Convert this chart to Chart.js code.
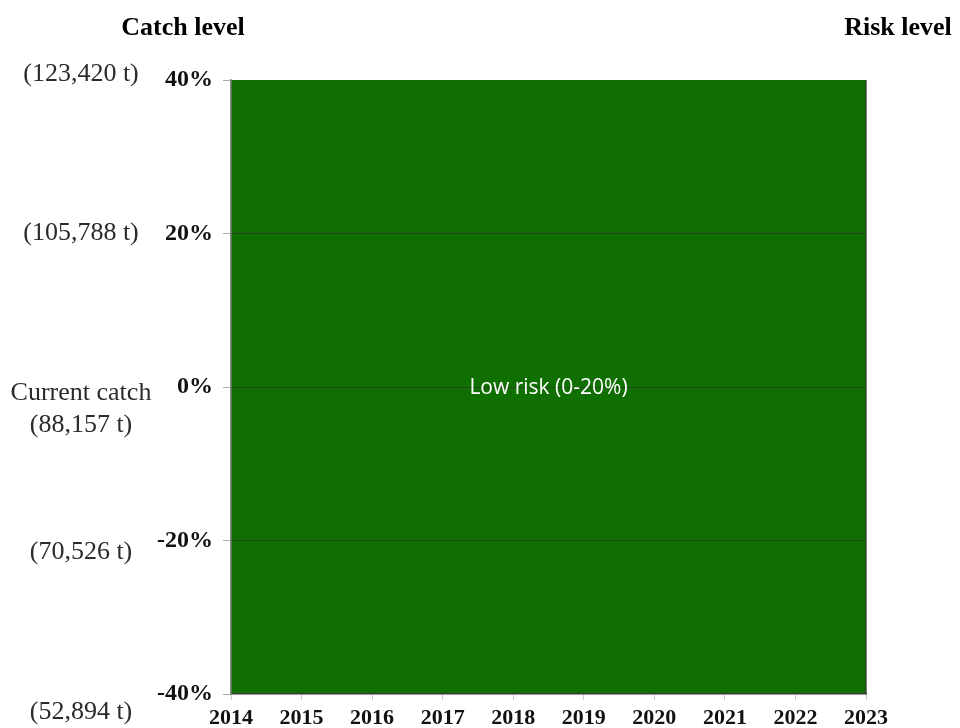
<!DOCTYPE html>
<html>
<head>
<meta charset="utf-8">
<script src="https://cdn.jsdelivr.net/npm/chart.js@4/dist/chart.umd.min.js"></script>
<style>
  html, body { margin: 0; padding: 0; background: #ffffff; }
  #wrap { width: 960px; height: 728px; }
</style>
</head>
<body>
<div id="wrap"><canvas id="chart" width="960" height="728"></canvas></div>
<script>
// Projection years (x axis)
const years = [2014, 2015, 2016, 2017, 2018, 2019, 2020, 2021, 2022, 2023];
// Catch change relative to current catch (%) bounding the risk band
const bandUpper = [40, 40, 40, 40, 40, 40, 40, 40, 40, 40];
const bandLower = [-40, -40, -40, -40, -40, -40, -40, -40, -40, -40];
// Percent ticks on the catch axis
const percentTicks = [40, 20, 0, -20, -40];
// Catch in tonnes matching each percent tick
const catchLabels = [
  ['(123,420 t)'],
  ['(105,788 t)'],
  ['Current catch', '(88,157 t)'],
  ['(70,526 t)'],
  ['(52,894 t)']
];
// Risk zone shown inside the band
const riskZoneText = 'Low risk (0-20%)';
const riskZoneValue = 0;

const SERIF = '"Liberation Serif", "Times New Roman", serif';
const GREEN = '#0f6f01';

const sidePlugin = {
  id: 'sideText',
  afterDraw(chart) {
    const ctx = chart.ctx;
    const y = chart.scales.y;
    const x = chart.scales.x;
    const area = chart.chartArea;
    ctx.save();
    // Headings
    ctx.fillStyle = '#000';
    ctx.font = 'bold 26px ' + SERIF;
    ctx.textAlign = 'center';
    ctx.textBaseline = 'middle';
    ctx.fillText('Catch level', 183, 28);
    ctx.fillText('Risk level', 898, 28);
    // Catch in tonnes beside each percent tick
    ctx.font = '26px ' + SERIF;
    ctx.fillStyle = '#2b2b2b';
    percentTicks.forEach((v, i) => {
      const base = y.getPixelForValue(v) + 6 - v * 0.3;
      catchLabels[i].forEach((line, j) => {
        ctx.fillText(line, 81, base + j * 32);
      });
    });
    // Risk zone label
    ctx.font = '21px "Open Sans", "Noto Sans", sans-serif';
    ctx.fillStyle = '#ffffff';
    ctx.fillText(riskZoneText, (area.left + area.right) / 2, y.getPixelForValue(riskZoneValue) + 1);
    // Right edge of the band
    ctx.strokeStyle = 'rgba(40,50,40,0.8)';
    ctx.lineWidth = 1.5;
    ctx.beginPath();
    ctx.moveTo(x.getPixelForValue(years[years.length - 1]), area.top);
    ctx.lineTo(x.getPixelForValue(years[years.length - 1]), area.bottom);
    ctx.stroke();
    ctx.restore();
  }
};

new Chart(document.getElementById('chart'), {
  type: 'line',
  data: {
    datasets: [
      {
        label: 'lower',
        data: years.map((yr, i) => ({ x: yr, y: bandLower[i] })),
        borderWidth: 0,
        pointRadius: 0,
        fill: false
      },
      {
        label: 'Low risk',
        data: years.map((yr, i) => ({ x: yr, y: bandUpper[i] })),
        borderWidth: 0,
        pointRadius: 0,
        backgroundColor: GREEN,
        fill: '-1'
      }
    ]
  },
  options: {
    responsive: false,
    devicePixelRatio: 1,
    animation: false,
    layout: { padding: { top: 80, right: 94, bottom: 0, left: 0 } },
    plugins: { legend: { display: false }, tooltip: { enabled: false }, title: { display: false } },
    scales: {
      x: {
        type: 'linear',
        min: years[0],
        max: years[years.length - 1],
        afterFit(s) { s.height = 34; },
        afterBuildTicks(s) { s.ticks = years.map(v => ({ value: v })); },
        ticks: {
          padding: 5,
          maxRotation: 0,
          autoSkip: false,
          color: '#111',
          font: { family: SERIF, size: 22, weight: 'bold' },
          callback: v => String(v)
        },
        grid: { drawOnChartArea: false, drawTicks: true, tickLength: 6, tickColor: '#c8c8c8' },
        border: { display: true, color: '#3a3a3a', width: 1.5, z: 1 }
      },
      y: {
        min: -40,
        max: 40,
        afterFit(s) { s.width = 231; },
        afterBuildTicks(s) { s.ticks = percentTicks.map(v => ({ value: v })); },
        ticks: {
          padding: 10,
          color: '#111',
          font: { family: SERIF, size: 24, weight: 'bold' },
          callback: v => v + '%'
        },
        grid: {
          z: 1,
          drawTicks: true,
          tickLength: 8,
          tickColor: '#aaaaaa',
          lineWidth: 1,
          color: ctx => (ctx.tick && (ctx.tick.value === 40 || ctx.tick.value === -40)) ? 'rgba(0,0,0,0)' : 'rgba(45,55,45,0.75)'
        },
        border: { display: true, color: '#8a8a8a', width: 1.5, z: 1 }
      }
    }
  },
  plugins: [sidePlugin]
});
</script>
</body>
</html>
